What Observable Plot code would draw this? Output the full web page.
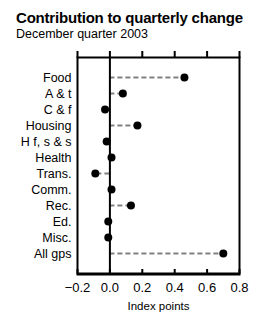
<!DOCTYPE html>
<html>
<head>
<meta charset="utf-8">
<script src="https://cdn.jsdelivr.net/npm/d3@7"></script>
<script src="https://cdn.jsdelivr.net/npm/@observablehq/plot@0.6"></script>
<style>
  html, body { margin: 0; padding: 0; background: #fff; }
  #wrap { position: relative; width: 273px; height: 330px; overflow: hidden; font-family: "Liberation Sans", Arial, sans-serif; }
  #title { position: absolute; left: 16px; top: 9px; font-family: "Liberation Sans", Arial, sans-serif; font-weight: bold; font-size: 15px; letter-spacing: -0.2px; white-space: nowrap; color: #000; }
  #subtitle { position: absolute; left: 16px; top: 27px; font-size: 12.5px; white-space: nowrap; color: #000; }
  #chart { position: absolute; left: 0; top: 0; }
</style>
</head>
<body>
<div id="wrap">
  <div id="chart"></div>
  <div id="title">Contribution to quarterly change</div>
  <div id="subtitle">December quarter 2003</div>
</div>
<script>
const categories = ["Food", "A & t", "C & f", "Housing", "H f, s & s", "Health", "Trans.", "Comm.", "Rec.", "Ed.", "Misc.", "All gps"];
const values = [0.46, 0.08, -0.03, 0.17, -0.02, 0.01, -0.09, 0.01, 0.13, -0.01, -0.01, 0.70];
const xTicks = [-0.2, 0, 0.2, 0.4, 0.6, 0.8];
const xLabel = "Index points";

const data = categories.map((c, i) => ({category: c, value: values[i]}));
const fmt = d3.format(".1f");

const chart = Plot.plot({
  width: 273,
  height: 330,
  marginTop: 57,
  marginBottom: 56,
  marginLeft: 77,
  marginRight: 34,
  style: {fontFamily: "'Liberation Sans', Arial, sans-serif", background: "transparent"},
  x: {domain: [-0.2, 0.8], ticks: xTicks, tickFormat: fmt},
  y: {type: "point", domain: categories, padding: 0.87, insetBottom: 2},
  marks: [
    Plot.ruleY(data, {y: "category", x1: 0, x2: "value", stroke: "#808080", strokeWidth: 2, strokeDasharray: "5,3"}),
    Plot.ruleX([0], {stroke: "black", strokeWidth: 2}),
    Plot.frame({stroke: "black", strokeWidth: 2}),
    Plot.frame({fill: "black", stroke: "none", insetTop: 215}),
    Plot.axisX({anchor: "top", ticks: xTicks, tickSize: 7, strokeWidth: 2, tickFormat: () => "", label: null}),
    Plot.ruleX(xTicks, {stroke: "black", strokeWidth: 2, insetTop: 212}),
    Plot.axisX({anchor: "bottom", ticks: xTicks, tickSize: 0, tickPadding: 8, fontSize: 13, tickFormat: fmt, label: null}),
    Plot.axisY({tickSize: 0, tickPadding: 6, fontSize: 12.5, label: null}),
    Plot.text([xLabel], {frameAnchor: "bottom", dy: 35, fontSize: 11.5, fill: "black"}),
    Plot.dot(data, {y: "category", x: "value", r: 4, fill: "black", stroke: "none"})
  ]
});
document.getElementById("chart").appendChild(chart);
</script>
</body>
</html>
